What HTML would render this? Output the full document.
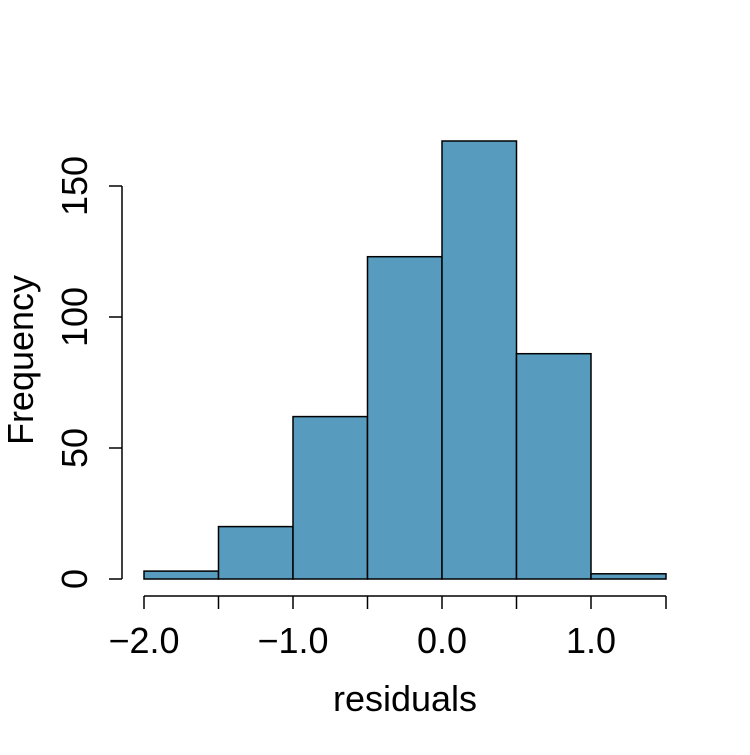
<!DOCTYPE html>
<html><head><meta charset="utf-8"><style>body{margin:0;background:#fff}</style></head>
<body>
<svg width="750" height="750" xmlns="http://www.w3.org/2000/svg" font-family="Liberation Sans, sans-serif">
<rect width="750" height="750" fill="#fff"/>
<g fill="#579cbf" stroke="#000" stroke-width="1.5">
<rect x="144" y="571.1" width="74.5" height="7.9"/>
<rect x="218.5" y="526.6" width="74.5" height="52.4"/>
<rect x="293" y="416.6" width="74.5" height="162.4"/>
<rect x="367.5" y="256.7" width="74.5" height="322.3"/>
<rect x="442" y="141" width="74.5" height="438"/>
<rect x="516.5" y="353.7" width="74.5" height="225.3"/>
<rect x="591" y="573.8" width="75" height="5.2"/>
</g>
<g stroke="#000" stroke-width="1.5">
<line x1="144" y1="596" x2="666" y2="596"/>
<line x1="144" y1="596" x2="144" y2="609"/>
<line x1="218.5" y1="596" x2="218.5" y2="609"/>
<line x1="293" y1="596" x2="293" y2="609"/>
<line x1="367.5" y1="596" x2="367.5" y2="609"/>
<line x1="442" y1="596" x2="442" y2="609"/>
<line x1="516.5" y1="596" x2="516.5" y2="609"/>
<line x1="591" y1="596" x2="591" y2="609"/>
<line x1="666" y1="596" x2="666" y2="609"/>
<line x1="122" y1="579" x2="122" y2="186"/>
<line x1="122" y1="579" x2="109" y2="579"/>
<line x1="122" y1="448" x2="109" y2="448"/>
<line x1="122" y1="317" x2="109" y2="317"/>
<line x1="122" y1="186" x2="109" y2="186"/>
</g>
<g font-size="36" text-anchor="middle" fill="#000">
<text x="144" y="653">−2.0</text>
<text x="293" y="653">−1.0</text>
<text x="442" y="653">0.0</text>
<text x="591" y="653">1.0</text>
<text x="405" y="711">residuals</text>
<text transform="translate(87,579) rotate(-90)">0</text>
<text transform="translate(87,448) rotate(-90)">50</text>
<text transform="translate(87,317) rotate(-90)">100</text>
<text transform="translate(87,186) rotate(-90)">150</text>
<text transform="translate(33,360) rotate(-90)">Frequency</text>
</g>
</svg>
</body></html>
